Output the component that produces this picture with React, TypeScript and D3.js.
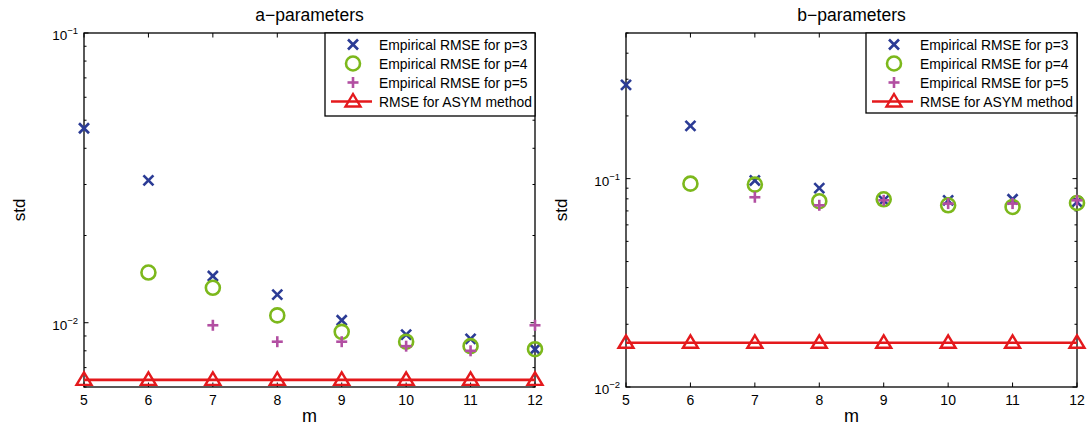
import * as d3 from "d3";

const mValues = [5, 6, 7, 8, 9, 10, 11, 12];

// a-parameters
const aP3 = [0.0469, 0.031, 0.0145, 0.0125, 0.0102, 0.0091, 0.0088, 0.0081];
const aP4 = [null, 0.0149, 0.0132, 0.0106, 0.0093, 0.0086, 0.0083, 0.0081];
const aP5 = [null, null, 0.0098, 0.0086, 0.0086, 0.0083, 0.008, 0.0098];
const aAsym = [0.00635, 0.00635, 0.00635, 0.00635, 0.00635, 0.00635, 0.00635, 0.00635];

// b-parameters
const bP3 = [0.282, 0.179, 0.098, 0.09, 0.0787, 0.0787, 0.0796, 0.0773];
const bP4 = [null, 0.0946, 0.0936, 0.0779, 0.0796, 0.0745, 0.0731, 0.0764];
const bP5 = [null, null, 0.0814, 0.0745, 0.0787, 0.0759, 0.0759, 0.0787];
const bAsym = [0.0163, 0.0163, 0.0163, 0.0163, 0.0163, 0.0163, 0.0163, 0.0163];

const legendLabels = [
  "Empirical RMSE for p=3",
  "Empirical RMSE for p=4",
  "Empirical RMSE for p=5",
  "RMSE for ASYM method",
];

const BLUE = "#2b3b95";
const GREEN = "#7cb81c";
const MAGENTA = "#b24fa2";
const RED = "#e4191c";
const FONT = "'Liberation Sans', Arial, Helvetica, sans-serif";

type Num = number | null;

const Cross = ({ x, y, s = 5 }: { x: number; y: number; s?: number }) => (
  <g stroke={BLUE} strokeWidth={2.6}>
    <line x1={x - s} y1={y - s} x2={x + s} y2={y + s} />
    <line x1={x - s} y1={y + s} x2={x + s} y2={y - s} />
  </g>
);
const Ring = ({ x, y }: { x: number; y: number }) => (
  <circle cx={x} cy={y} r={7} fill="none" stroke={GREEN} strokeWidth={2.6} />
);
const Plus = ({ x, y, s = 5.5 }: { x: number; y: number; s?: number }) => (
  <g stroke={MAGENTA} strokeWidth={2.6}>
    <line x1={x - s} y1={y} x2={x + s} y2={y} />
    <line x1={x} y1={y - s} x2={x} y2={y + s} />
  </g>
);
const Tri = ({ x, y }: { x: number; y: number }) => (
  <path
    d={`M${x},${y - 7.5}L${x + 7.5},${y + 5}L${x - 7.5},${y + 5}Z`}
    fill="none"
    stroke={RED}
    strokeWidth={2.4}
    strokeLinejoin="miter"
  />
);

function Panel(props: {
  left: number; right: number; top: number; bottom: number;
  domain: [number, number]; title: string;
  p3: Num[]; p4: Num[]; p5: Num[]; asym: number[];
  legX: number; legW: number; legH: number;
}) {
  const { left, right, top, bottom, domain, title, p3, p4, p5, asym, legX, legW, legH } = props;
  const x = d3.scaleLinear().domain([5, 12]).range([left, right]);
  const y = d3.scaleLog().domain(domain).range([bottom, top]);

  const majors: number[] = [];
  const minors: number[] = [];
  const lo = Math.floor(Math.log10(domain[0]));
  const hi = Math.ceil(Math.log10(domain[1]));
  for (let e = lo; e <= hi; e++) {
    for (let k = 1; k <= 9; k++) {
      const v = k * Math.pow(10, e);
      if (v < domain[0] * 0.9999 || v > domain[1] * 1.0001) continue;
      (k === 1 ? majors : minors).push(v);
    }
  }

  const asymLine = d3.line<number>().x((_, i) => x(mValues[i])).y((d) => y(d));
  const legY = (i: number) => top + 11.5 + i * 19;
  const mk = legX + 28;

  return (
    <g fontFamily={FONT}>
      <text x={(left + right) / 2} y={21} textAnchor="middle" fontSize={17.5}>{title}</text>
      {/* axis ticks */}
      {mValues.map((m) => (
        <g key={"xt" + m} stroke="#000" strokeWidth={1}>
          <line x1={x(m)} x2={x(m)} y1={bottom} y2={bottom - 4.5} />
          <line x1={x(m)} x2={x(m)} y1={top} y2={top + 4.5} />
        </g>
      ))}
      {mValues.map((m) => (
        <text key={"xl" + m} x={x(m)} y={405} textAnchor="middle" fontSize={14}>{m}</text>
      ))}
      {majors.map((v) => (
        <g key={"ym" + v} stroke="#000" strokeWidth={1}>
          <line x1={left} x2={left + 4.5} y1={y(v)} y2={y(v)} />
          <line x1={right} x2={right - 4.5} y1={y(v)} y2={y(v)} />
        </g>
      ))}
      {minors.map((v) => (
        <g key={"yn" + v} stroke="#000" strokeWidth={1}>
          <line x1={left} x2={left + 2.5} y1={y(v)} y2={y(v)} />
          <line x1={right} x2={right - 2.5} y1={y(v)} y2={y(v)} />
        </g>
      ))}
      {majors.map((v) => (
        <text key={"yl" + v} x={left - 6} y={y(v) + 7} textAnchor="end" fontSize={13.5}>
          10<tspan dy={-6} fontSize={9.5}>{"−" + Math.round(-Math.log10(v))}</tspan>
        </text>
      ))}
      <rect x={left} y={top} width={right - left} height={bottom - top} fill="none" stroke="#000" strokeWidth={1.3} />
      <text x={(left + right) / 2} y={422} textAnchor="middle" fontSize={18}>m</text>
      <text transform={`translate(${left - 59},${(top + bottom) / 2}) rotate(-90)`} textAnchor="middle" fontSize={17}>std</text>

      {/* data */}
      {p3.map((v, i) => v == null ? null : <Cross key={"c" + i} x={x(mValues[i])} y={y(v)} />)}
      {p4.map((v, i) => v == null ? null : <Ring key={"r" + i} x={x(mValues[i])} y={y(v)} />)}
      {p5.map((v, i) => v == null ? null : <Plus key={"p" + i} x={x(mValues[i])} y={y(v)} />)}
      <path d={asymLine(asym) || ""} fill="none" stroke={RED} strokeWidth={2.6} />
      {asym.map((v, i) => <Tri key={"t" + i} x={x(mValues[i])} y={y(v)} />)}

      {/* legend */}
      <rect x={legX} y={top} width={legW} height={legH} fill="#fff" stroke="#000" strokeWidth={1.3} />
      <Cross x={mk} y={legY(0)} />
      <Ring x={mk} y={legY(1)} />
      <Plus x={mk} y={legY(2)} />
      <line x1={mk - 22} x2={mk + 19} y1={legY(3)} y2={legY(3)} stroke={RED} strokeWidth={2.6} />
      <Tri x={mk} y={legY(3)} />
      {legendLabels.map((t, i) => (
        <text key={t} x={legX + 54} y={legY(i) + 5} fontSize={13.9}>{t}</text>
      ))}
    </g>
  );
}

export default function App() {
  return (
    <svg width={1087} height={426} style={{ position: "absolute", left: 0, top: 0, background: "#fff" }}>
      <Panel left={84} right={535} top={33} bottom={387} domain={[0.006, 0.1]} title="a−parameters"
        p3={aP3} p4={aP4} p5={aP5} asym={aAsym} legX={325} legW={210} legH={83} />
      <Panel left={626} right={1077} top={33} bottom={387} domain={[0.01, 0.5]} title="b−parameters"
        p3={bP3} p4={bP4} p5={bP5} asym={bAsym} legX={866} legW={211} legH={80} />
    </svg>
  );
}
